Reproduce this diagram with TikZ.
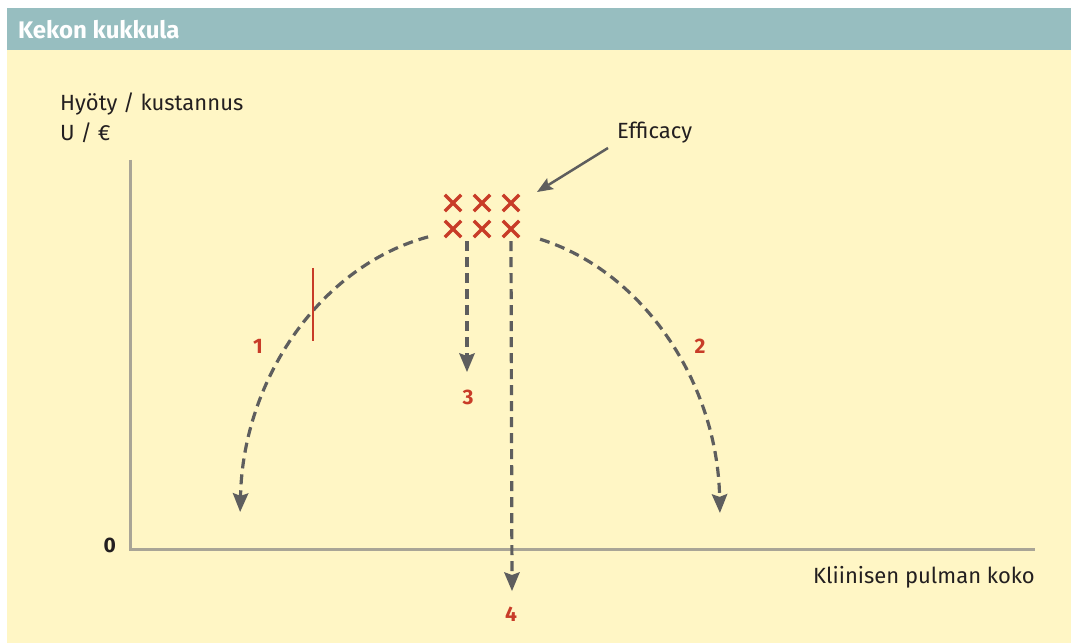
\documentclass[tikz,border=0pt]{standalone}
\usepackage{fontspec}
\setmainfont{Fira Sans}
\usetikzlibrary{arrows.meta,shapes.misc}
\definecolor{hdr}{HTML}{97BEC0}
\definecolor{bgc}{HTML}{FFF6C5}
\definecolor{axisc}{HTML}{A9A596}
\definecolor{dashc}{HTML}{5E5E5E}
\definecolor{redc}{HTML}{C83C28}
\definecolor{txt}{HTML}{231F20}
\begin{document}
\begin{tikzpicture}[x=1pt,y=1pt,
  dashline/.style={draw=dashc, line width=3.2pt, dash pattern=on 10pt off 6pt},
  tipped/.style={-{Stealth[length=19pt,width=16pt,inset=3pt,line width=0pt]}},
  lbl/.style={font=\fontsize{22}{24}\selectfont, text=txt, inner sep=0pt},
  num/.style={font=\bfseries\fontsize{21}{24}\selectfont, text=redc, inner sep=0pt},
  xmark/.style={cross out, draw=redc, line width=3.4pt, minimum size=13pt, inner sep=0pt},
  axisline/.style={draw=axisc, line width=3pt}]
\useasboundingbox (0,0) rectangle (1071,643);
\fill[white] (0,0) rectangle (1071,643);
% panels
\fill[bgc] (7,0) rectangle (1071,593);
\fill[hdr] (7,593) rectangle (1071,635);
\node[anchor=west, inner sep=0pt, text=white, font=\bfseries\fontsize{24}{26}\selectfont] (title) at (18,613) {Kekon kukkula};
% axes
\coordinate (ytop) at (130,483);
\coordinate (origin) at (130,94);
\coordinate (xend) at (1035,94);
\draw[axisline] (ytop) -- (origin) -- (xend);
\node[anchor=east, inner sep=0pt, font=\bfseries\fontsize{21}{24}\selectfont, text=txt] (zero) at (116,98) {0};
\node[lbl, anchor=west] (ylab1) at (60,539) {Hyöty / kustannus};
\node[lbl, anchor=west] (ylab2) at (60,510) {U / €};
\node[lbl, anchor=east] (xlab) at (1035,66) {Kliinisen pulman koko};
% crosses
\node[xmark] (c11) at (453,440) {};
\node[xmark] (c12) at (482,440) {};
\node[xmark] (c13) at (511,440) {};
\node[xmark] (c21) at (453,414) {};
\node[xmark] (c22) at (482,414) {};
\node[xmark] (c23) at (511,414) {};
% efficacy
\node[lbl, anchor=west] (eff) at (617,510) {Efficacy};
\coordinate (effs) at (608,495);
\coordinate (effe) at (537,451);
\draw[draw=dashc, line width=2.5pt, -{Stealth[length=16pt,width=13pt,inset=3pt,line width=0pt]}] (effs) -- (effe);
% arcs
\coordinate (la) at (428.1,406.1);
\coordinate (ra) at (540.1,403.8);
\draw[dashline, tipped] (la) arc[start angle=102.5, end angle=178.4, x radius=240, y radius=290];
\draw[dashline, tipped] (ra) arc[start angle=75.5, end angle=1.4, x radius=240, y radius=290];
% red mark
\coordinate (rm1) at (313,375);
\coordinate (rm2) at (313,302);
\draw[redc, line width=2pt] (rm1) -- (rm2);
% vertical arrows
\coordinate (v3e) at (467,271);
\coordinate (v4e) at (512,52);
\draw[dashline, tipped] (c22.south -| v3e) ++(0,-4) -- (v3e);
\draw[dashline, tipped] (c23.south) ++(0,-4) -- (v4e);
% numbers
\node[num] (n1) at (258,297) {1};
\node[num] (n2) at (700,297) {2};
\node[num] (n3) at (468,246) {3};
\node[num] (n4) at (511,29) {4};
\end{tikzpicture}
\end{document}
